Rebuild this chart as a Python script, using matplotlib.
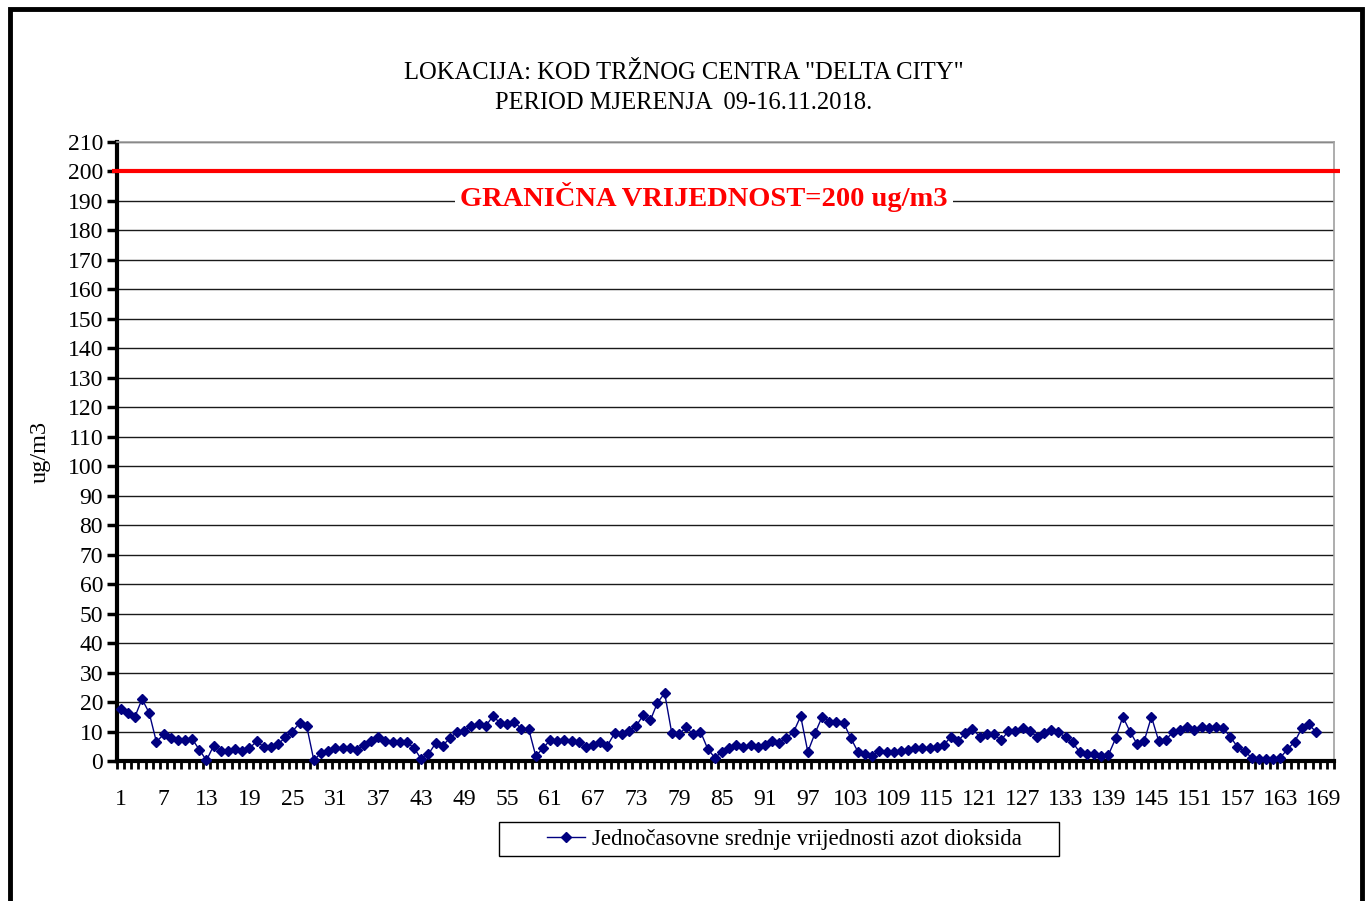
import numpy as np
import matplotlib
matplotlib.use("Agg")
import matplotlib.pyplot as plt
from matplotlib.patches import Rectangle

plt.rcParams["font.family"] = ["Liberation Serif", "DejaVu Serif"]

# hourly NO2 values (ug/m3), 168 hours
HOURS = list(range(1, 169))
NO2 = [
    17.5, 16.4, 15.0, 21.0, 16.3, 6.5, 9.0, 7.8, 7.2, 7.2,
    7.5, 3.8, 0.2, 5.2, 3.4, 3.4, 4.0, 3.4, 4.3, 6.7,
    4.8, 4.8, 5.7, 8.0, 10.0, 12.9, 11.8, 0.2, 2.8, 3.4,
    4.3, 4.3, 4.3, 3.7, 5.5, 6.9, 8.3, 6.9, 6.3, 6.4,
    6.3, 4.4, 0.6, 2.3, 6.0, 5.2, 7.8, 9.8, 10.3, 11.8,
    12.4, 11.8, 15.2, 13.0, 12.4, 13.2, 10.9, 10.9, 1.7, 4.3,
    7.1, 6.9, 7.1, 6.9, 6.3, 4.8, 5.4, 6.5, 5.2, 9.4,
    9.0, 10.3, 11.8, 15.5, 13.8, 19.8, 23.0, 9.4, 9.0, 11.5,
    9.0, 10.0, 4.2, 1.1, 3.1, 4.3, 5.4, 4.8, 5.5, 4.8,
    5.5, 6.7, 6.0, 7.8, 9.8, 15.2, 3.1, 9.4, 15.0, 13.4,
    13.4, 12.9, 7.8, 3.1, 2.5, 1.7, 3.4, 2.9, 2.9, 3.4,
    3.8, 4.3, 4.3, 4.3, 4.8, 5.4, 8.3, 6.9, 9.4, 10.9,
    8.3, 9.0, 9.0, 7.1, 10.1, 10.3, 11.1, 10.1, 8.3, 9.4,
    10.6, 9.8, 8.0, 6.3, 2.9, 2.5, 2.5, 1.7, 2.1, 7.7,
    15.0, 10.0, 5.7, 6.9, 15.0, 6.9, 7.2, 9.8, 10.6, 11.5,
    10.6, 11.5, 11.1, 11.5, 11.1, 8.3, 4.8, 3.4, 1.1, 0.6,
    0.6, 0.6, 1.1, 4.0, 6.5, 11.1, 12.4, 9.8,
]
N_CATEGORIES = 170
LIMIT = 200
X_LABELS = list(range(1, 170, 6))
Y_TICKS = list(range(0, 211, 10))

TITLE = 'LOKACIJA: KOD TRŽNOG CENTRA "DELTA CITY"\nPERIOD MJERENJA  09-16.11.2018.'
LIMIT_TEXT = "GRANIČNA VRIJEDNOST=200 ug/m3"
SERIES_NAME = "Jednočasovne srednje vrijednosti azot dioksida"

W, H = 1367, 901
FS = 17
fig = plt.figure(figsize=(W / 100, H / 100), dpi=100, facecolor="white")

# outer chart frame (bottom edge runs off the image)
fig.patches.append(Rectangle((10 / W, -0.05), (1352 / W), 1.05 - 9 / H,
                             transform=fig.transFigure, fill=False,
                             edgecolor="black", linewidth=3.5, zorder=0))

ax = fig.add_axes([117 / W, (H - 761) / H, (1334 - 117) / W, (761 - 142) / H])
ax.set_xlim(0.5, N_CATEGORIES + 0.5)
ax.set_ylim(0, 210)

ax.set_yticks(Y_TICKS)
ax.set_yticklabels([str(v) for v in Y_TICKS], fontsize=FS)
ax.yaxis.grid(True, color="#1a1a1a", linewidth=1.0)
ax.set_axisbelow(True)

ax.set_xticks(X_LABELS)
ax.set_xticklabels([str(v) for v in X_LABELS], fontsize=FS)
ax.set_xticks(np.arange(0.5, N_CATEGORIES + 1, 1), minor=True)
ax.tick_params(axis="x", which="major", length=0, pad=20)
ax.tick_params(axis="x", which="minor", length=6, width=2, direction="out")
ax.tick_params(axis="y", length=7, width=2.5, direction="out", pad=3)

for s in ["left", "bottom"]:
    ax.spines[s].set_linewidth(3)
    ax.spines[s].set_color("black")
for s in ["top", "right"]:
    ax.spines[s].set_linewidth(1.2)
    ax.spines[s].set_color("#a0a0a0")

# limit line
ax.plot([-0.2, N_CATEGORIES + 1.3], [LIMIT, LIMIT], color="#ff0000",
        linewidth=3, clip_on=False, zorder=3, solid_capstyle="butt")
ax.text(82.5, 191.5, LIMIT_TEXT, color="#ff0000", fontsize=20.5, fontweight="bold",
        ha="center", va="center", zorder=4,
        bbox=dict(facecolor="white", edgecolor="none", pad=4))

# data series
ax.plot(HOURS, NO2, color="#000080", linewidth=1.0, marker="D", markersize=5.5,
        markerfacecolor="#000080", markeredgecolor="#000080", clip_on=False,
        zorder=5, label=SERIES_NAME)

ax.set_ylabel("ug/m3", fontsize=17.5, labelpad=12)

fig.text(0.5, 1 - 88 / H, TITLE, ha="center", va="center", fontsize=17.7,
         linespacing=1.47)

# legend: box drawn by hand to get the wide inner padding
fig.patches.append(Rectangle((499 / W, (H - 856) / H), 560 / W, 34 / H,
                             transform=fig.transFigure, fill=False,
                             edgecolor="black", linewidth=1.0, zorder=1))
leg = ax.legend(loc="center left", bbox_to_anchor=(547 / W, (H - 839) / H),
                bbox_transform=fig.transFigure, fontsize=16.5, frameon=False,
                borderpad=0, borderaxespad=0, handlelength=1.65,
                handletextpad=0.3)

fig.savefig("out.png", dpi=100, facecolor="white")
